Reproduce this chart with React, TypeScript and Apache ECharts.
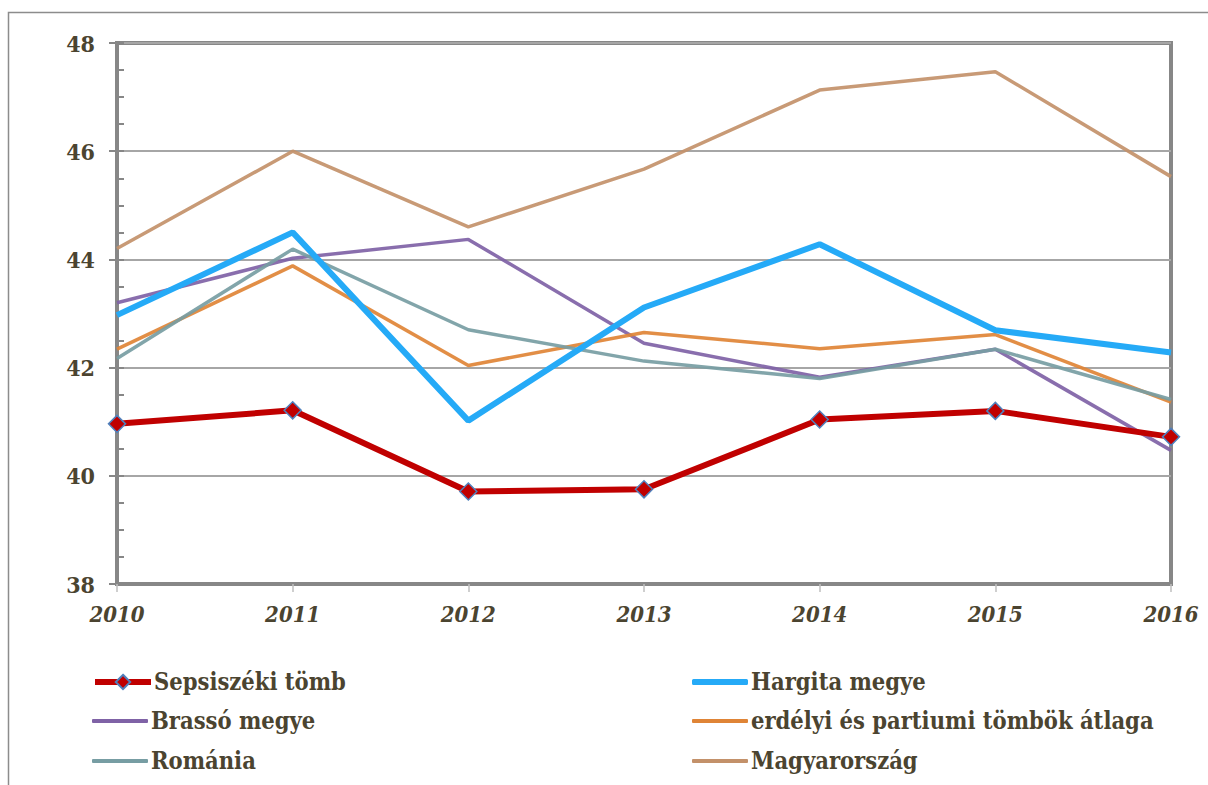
import React, { useEffect, useRef } from "react";
import * as echarts from "echarts";

const years = ["2010", "2011", "2012", "2013", "2014", "2015", "2016"];
const sepsi = [40.96, 41.21, 39.71, 39.75, 41.04, 41.2, 40.72];
const hargita = [42.97, 44.5, 41.02, 43.11, 44.28, 42.69, 42.28];
const brasso = [43.2, 44.02, 44.37, 42.45, 41.82, 42.34, 40.47];
const erdelyi = [42.34, 43.88, 42.04, 42.65, 42.35, 42.61, 41.36];
const romania = [42.17, 44.19, 42.7, 42.12, 41.8, 42.34, 41.41];
const magyar = [44.2, 46.0, 44.6, 45.67, 47.13, 47.47, 45.53];

const names = [
  "Sepsiszéki tömb",
  "Hargita megye",
  "Brassó megye",
  "erdélyi és partiumi tömbök átlaga",
  "Románia",
  "Magyarország",
];
const colors = ["#c00000", "#25aaf7", "#7f62a6", "#df8436", "#779da3", "#c3916a"];

const FONT = "'DejaVu Serif Condensed', 'DejaVu Serif', serif";
const TXT = "#4b4430";

export default function App() {
  const ref = useRef<HTMLDivElement>(null);
  useEffect(() => {
    const chart = echarts.init(ref.current!, null, { renderer: "svg" });
    const thin = (i: number, data: number[], z: number) => ({
      name: names[i],
      type: "line",
      data,
      yAxisIndex: 0,
      symbol: "none",
      z,
      lineStyle: { color: colors[i], width: 3.5, opacity: 0.92 },
      itemStyle: { color: colors[i] },
    });
    const legendPos = [
      [92, 667],
      [692, 667],
      [92, 706],
      [692, 706],
      [92, 746],
      [692, 746],
    ];
    chart.setOption({
      animation: false,
      backgroundColor: "#ffffff",
      textStyle: { fontFamily: FONT },
      graphic: [
        {
          type: "rect",
          shape: { x: 8.5, y: 12.5, width: 1300, height: 900 },
          style: { fill: "none", stroke: "#8c8c8c", lineWidth: 1.5 },
          silent: true,
        },
      ],
      grid: {
        left: 117,
        top: 43,
        right: 37,
        bottom: 201,
        show: true,
        borderColor: "#878787",
        borderWidth: 4,
        backgroundColor: "transparent",
      },
      legend: names.map((n, i) => {
        const base: any = {
          data: [n],
          left: legendPos[i][0],
          top: legendPos[i][1],
          orient: "horizontal",
          padding: 0,
          itemWidth: 56,
          itemGap: 4,
          selectedMode: false,
          textStyle: {
            fontFamily: FONT,
            fontWeight: "bold",
            fontSize: 23.5,
            lineHeight: 30,
            color: TXT,
            padding: [0, 0, 0, -2],
          },
        };
        if (i === 0) {
          base.itemHeight = 18;
          base.lineStyle = { width: 6, color: colors[0] };
        } else {
          base.icon = "roundRect";
          base.itemHeight = i === 1 ? 6 : 4;
          base.itemStyle = { color: colors[i] };
        }
        return base;
      }),
      xAxis: {
        type: "category",
        data: years,
        boundaryGap: false,
        axisLine: { show: true, lineStyle: { color: "#878787", width: 4 } },
        axisTick: { show: true, length: 8, lineStyle: { color: "#bfbfbf", width: 1.5 } },
        axisLabel: {
          fontFamily: FONT,
          fontWeight: "bold",
          fontStyle: "italic",
          fontSize: 22,
          color: TXT,
          margin: 19,
        },
        splitLine: { show: false },
      },
      yAxis: [
        {
          type: "value",
          min: 38,
          max: 48,
          interval: 2,
          axisLine: { show: true, lineStyle: { color: "#878787", width: 4 } },
          axisTick: { show: true, length: 8, lineStyle: { color: "#878787", width: 2 } },
          axisLabel: {
            fontFamily: FONT,
            fontWeight: "bold",
            fontSize: 23,
            color: TXT,
            margin: 22,
          },
          splitLine: { show: true, lineStyle: { color: "#a6a6a6", width: 2 } },
        },
        {
          type: "value",
          min: 38,
          max: 48,
          interval: 0.5,
          position: "left",
          axisLine: { show: false },
          axisTick: { show: true, inside: true, length: 7, lineStyle: { color: "#878787", width: 2 } },
          axisLabel: { show: false },
          splitLine: { show: false },
        },
      ],
      series: [
        thin(5, magyar, 2),
        thin(2, brasso, 3),
        thin(3, erdelyi, 4),
        thin(4, romania, 5),
        {
          name: names[1],
          type: "line",
          data: hargita,
          symbol: "none",
          z: 6,
          lineStyle: { color: colors[1], width: 6 },
          itemStyle: { color: colors[1] },
        },
        {
          name: names[0],
          type: "line",
          data: sepsi,
          symbol: "diamond",
          symbolSize: 17,
          z: 7,
          lineStyle: { color: colors[0], width: 6 },
          itemStyle: { color: colors[0], borderColor: "#4f81bd", borderWidth: 1.5 },
        },
      ],
    });
    return () => chart.dispose();
  }, []);
  return (
    <div
      ref={ref}
      style={{ position: "fixed", left: 0, top: 0, width: 1208, height: 785 }}
    />
  );
}
